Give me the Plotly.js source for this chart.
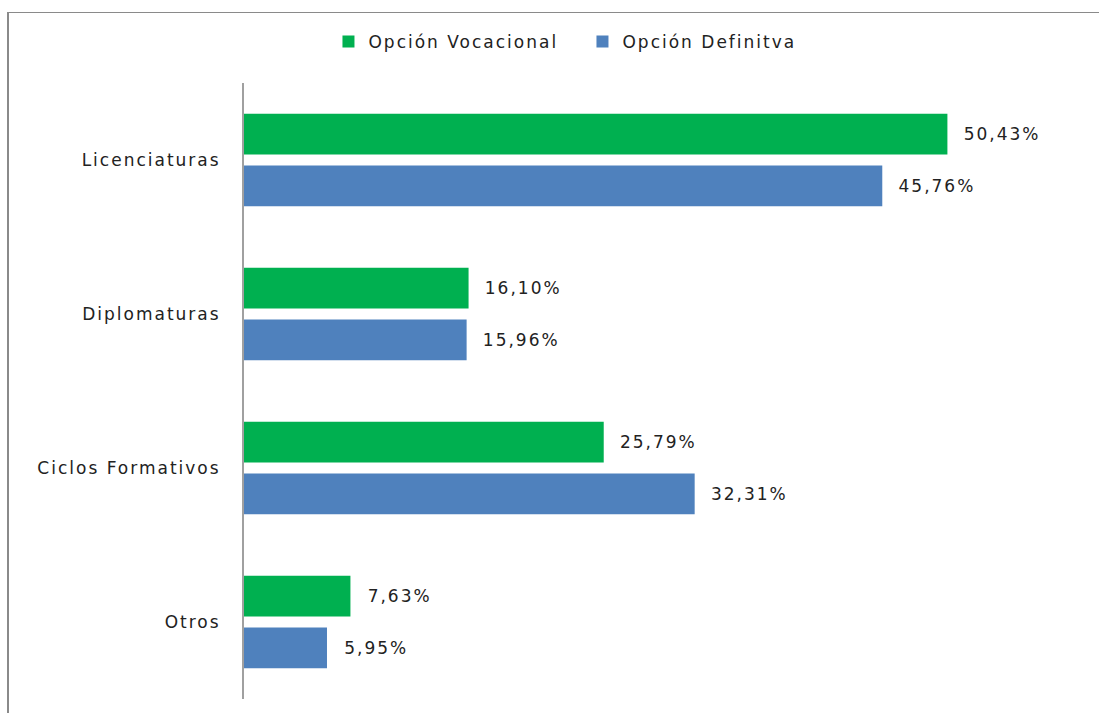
<!DOCTYPE html>
<html>
<head>
<meta charset="utf-8">
<script src="https://cdn.plot.ly/plotly-3.0.1.min.js"></script>
<style>
  html, body { margin: 0; padding: 0; background: #fff; }
  #chart { width: 1099px; height: 713px; position: absolute; left: 0; top: 0; }
  #chart text { letter-spacing: 2px; }
  #frame { position: absolute; left: 7px; top: 12px; width: 1092px; height: 701px;
           border-top: 1px solid #8a8a8a; border-left: 2px solid #8a8a8a;
           box-sizing: border-box; pointer-events: none; }
</style>
</head>
<body>
<div id="chart"></div>
<div id="frame"></div>
<script>
const categories = ["Licenciaturas", "Diplomaturas", "Ciclos Formativos", "Otros"];
const vocacional = [50.43, 16.10, 25.79, 7.63];
const definitiva = [45.76, 15.96, 32.31, 5.95];
const seriesNames = ["Opción Vocacional", "Opción Definitva"];

function fmt(v) { return "\u00a0\u00a0\u00a0" + v.toFixed(2).replace(".", ",") + "%"; }

const font = "DejaVu Sans, sans-serif";

const traces = [
  {
    type: "bar", orientation: "h", name: seriesNames[0],
    y: categories, x: vocacional,
    marker: { color: "#00B050" },
    text: vocacional.map(fmt), textposition: "outside", cliponaxis: false,
    textfont: { size: 17, color: "#222", family: font },
    hoverinfo: "skip"
  },
  {
    type: "bar", orientation: "h", name: seriesNames[1],
    y: categories, x: definitiva,
    marker: { color: "#4F81BD" },
    text: definitiva.map(fmt), textposition: "outside", cliponaxis: false,
    textfont: { size: 17, color: "#222", family: font },
    hoverinfo: "skip"
  }
];

const layout = {
  width: 1099, height: 713,
  margin: { l: 244, r: 99, t: 83, b: 14, autoexpand: false },
  paper_bgcolor: "#fff", plot_bgcolor: "#fff",
  barmode: "group", bargap: 0.33, bargroupgap: 0.21,
  showlegend: true,
  legend: {
    orientation: "h", x: 0.53, xanchor: "center", xref: "container",
    y: 0.941, yref: "container", yanchor: "middle",
    entrywidth: 209, entrywidthmode: "pixels",
    font: { size: 17, color: "#222", family: font },
    traceorder: "normal"
  },
  xaxis: { range: [0, 54.2], autorange: false, visible: false, fixedrange: true },
  yaxis: {
    autorange: "reversed", type: "category",
    showline: true, linecolor: "#a0a0a0", linewidth: 2,
    ticks: "", showgrid: false, zeroline: false,
    ticklabelstandoff: 18,
    tickfont: { size: 17, color: "#222", family: font }
  },
  font: { family: font }
};

Plotly.newPlot("chart", traces, layout, { displayModeBar: false, staticPlot: true });
</script>
</body>
</html>
